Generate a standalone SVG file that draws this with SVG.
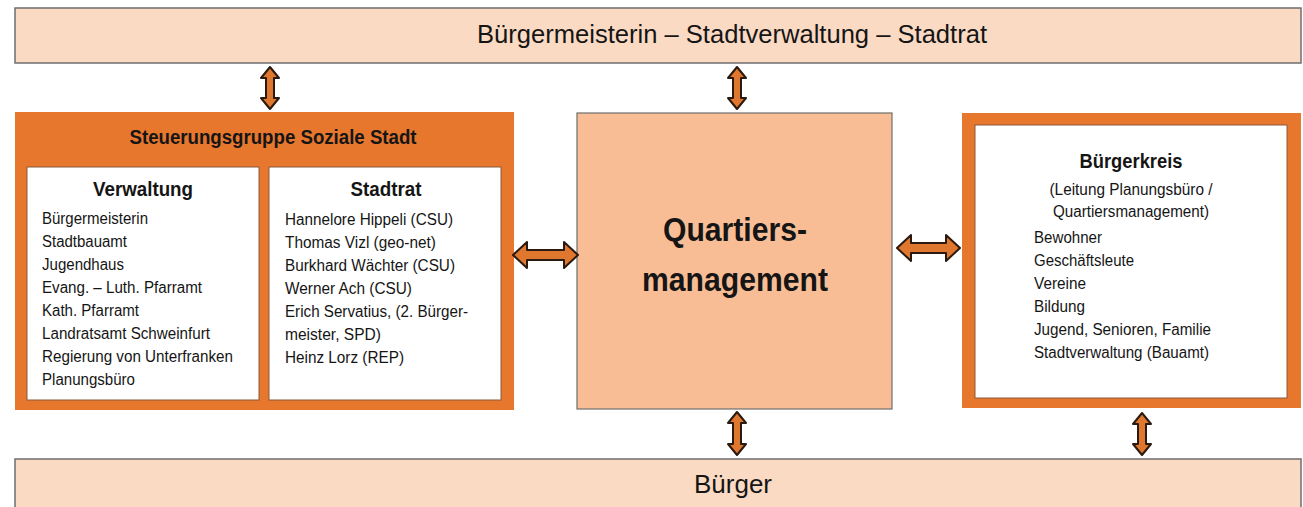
<svg xmlns="http://www.w3.org/2000/svg" width="1303" height="507" viewBox="0 0 1303 507">
<style>
text{font-family:"Liberation Sans",Arial,sans-serif;fill:#151515}
.bar{fill:#FBDAC3;stroke:#6e6e6e;stroke-width:1.5}
.org{fill:#E8772E}
.white{fill:#ffffff;stroke:#8a5a3a;stroke-width:1}
.qm{fill:#F9BD95;stroke:#6e6e6e;stroke-width:1.2}
.arr{fill:#E0772F;stroke:#2a1a10;stroke-width:2;stroke-linejoin:round}
.b{font-weight:bold}
.item{font-size:16px}
.c{text-anchor:middle}
</style>
<rect width="1303" height="507" fill="#ffffff"/>
<g id="top">
<rect class="bar" x="15" y="8" width="1286" height="55"/>
<text class="c" x="732" y="43" font-size="25" textLength="510" lengthAdjust="spacingAndGlyphs">Bürgermeisterin – Stadtverwaltung – Stadtrat</text>
</g>
<g id="steuerungsgruppe">
<rect class="org" x="15" y="112" width="499" height="298"/>
<text class="b c" x="273" y="144" font-size="20" textLength="287" lengthAdjust="spacingAndGlyphs">Steuerungsgruppe Soziale Stadt</text>
</g>
<g id="verwaltung">
<rect class="white" x="27" y="167" width="232" height="233"/>
<text class="b c" x="143" y="196" font-size="21" textLength="100" lengthAdjust="spacingAndGlyphs">Verwaltung</text>
<text class="item" x="42" y="224" textLength="106" lengthAdjust="spacingAndGlyphs">Bürgermeisterin</text>
<text class="item" x="42" y="247" textLength="85" lengthAdjust="spacingAndGlyphs">Stadtbauamt</text>
<text class="item" x="42" y="270" textLength="82" lengthAdjust="spacingAndGlyphs">Jugendhaus</text>
<text class="item" x="42" y="293" textLength="160" lengthAdjust="spacingAndGlyphs">Evang. – Luth. Pfarramt</text>
<text class="item" x="42" y="316" textLength="97" lengthAdjust="spacingAndGlyphs">Kath. Pfarramt</text>
<text class="item" x="42" y="339" textLength="168" lengthAdjust="spacingAndGlyphs">Landratsamt Schweinfurt</text>
<text class="item" x="42" y="362" textLength="191" lengthAdjust="spacingAndGlyphs">Regierung von Unterfranken</text>
<text class="item" x="42" y="385" textLength="93" lengthAdjust="spacingAndGlyphs">Planungsbüro</text>
</g>
<g id="stadtrat">
<rect class="white" x="269" y="167" width="232" height="233"/>
<text class="b c" x="386" y="196" font-size="21" textLength="71" lengthAdjust="spacingAndGlyphs">Stadtrat</text>
<text class="item" x="285" y="225" textLength="168" lengthAdjust="spacingAndGlyphs">Hannelore Hippeli (CSU)</text>
<text class="item" x="285" y="248" textLength="151" lengthAdjust="spacingAndGlyphs">Thomas Vizl (geo-net)</text>
<text class="item" x="285" y="271" textLength="170" lengthAdjust="spacingAndGlyphs">Burkhard Wächter (CSU)</text>
<text class="item" x="285" y="294" textLength="127" lengthAdjust="spacingAndGlyphs">Werner Ach (CSU)</text>
<text class="item" x="285" y="317" textLength="183" lengthAdjust="spacingAndGlyphs">Erich Servatius, (2. Bürger-</text>
<text class="item" x="285" y="340" textLength="96" lengthAdjust="spacingAndGlyphs">meister, SPD)</text>
<text class="item" x="285" y="363" textLength="119" lengthAdjust="spacingAndGlyphs">Heinz Lorz (REP)</text>
</g>
<g id="quartiersmanagement">
<rect class="qm" x="577" y="113" width="315" height="296"/>
<text class="b c" x="735" y="241" font-size="34" textLength="144" lengthAdjust="spacingAndGlyphs">Quartiers-</text>
<text class="b c" x="735" y="291" font-size="34" textLength="186" lengthAdjust="spacingAndGlyphs">management</text>
</g>
<g id="buergerkreis">
<rect class="org" x="962" y="113" width="339" height="295"/>
<rect class="white" x="975" y="125" width="312" height="273"/>
<text class="b c" x="1131" y="168" font-size="21" textLength="103" lengthAdjust="spacingAndGlyphs">Bürgerkreis</text>
<text class="item c" x="1131" y="195" textLength="163" lengthAdjust="spacingAndGlyphs">(Leitung Planungsbüro /</text>
<text class="item c" x="1131" y="217" textLength="156" lengthAdjust="spacingAndGlyphs">Quartiersmanagement)</text>
<text class="item" x="1034" y="243" textLength="68" lengthAdjust="spacingAndGlyphs">Bewohner</text>
<text class="item" x="1034" y="266" textLength="100" lengthAdjust="spacingAndGlyphs">Geschäftsleute</text>
<text class="item" x="1034" y="289" textLength="52" lengthAdjust="spacingAndGlyphs">Vereine</text>
<text class="item" x="1034" y="312" textLength="51" lengthAdjust="spacingAndGlyphs">Bildung</text>
<text class="item" x="1034" y="335" textLength="177" lengthAdjust="spacingAndGlyphs">Jugend, Senioren, Familie</text>
<text class="item" x="1034" y="358" textLength="175" lengthAdjust="spacingAndGlyphs">Stadtverwaltung (Bauamt)</text>
</g>
<g id="buerger">
<rect class="bar" x="15" y="459" width="1286" height="50"/>
<text class="c" x="733" y="493" font-size="25" textLength="78" lengthAdjust="spacingAndGlyphs">Bürger</text>
</g>
<g id="connectors">
<path class="arr" d="M270,67 L279,78 L274,78 L274,98 L279,98 L270,109 L261,98 L266,98 L266,78 L261,78 Z"/>
<path class="arr" d="M737,67 L746,78 L741,78 L741,98 L746,98 L737,109 L728,98 L733,98 L733,78 L728,78 Z"/>
<path class="arr" d="M737,412 L746,423 L741,423 L741,444 L746,444 L737,455 L728,444 L733,444 L733,423 L728,423 Z"/>
<path class="arr" d="M1142,413 L1151,424 L1146,424 L1146,444 L1151,444 L1142,455 L1133,444 L1138,444 L1138,424 L1133,424 Z"/>
<path class="arr" d="M513,255 L527,242 L527,250 L564,250 L564,242 L578,255 L564,268 L564,260 L527,260 L527,268 Z"/>
<path class="arr" d="M897,248 L911,235 L911,243 L946,243 L946,235 L960,248 L946,261 L946,253 L911,253 L911,261 Z"/>
</g>
</svg>
